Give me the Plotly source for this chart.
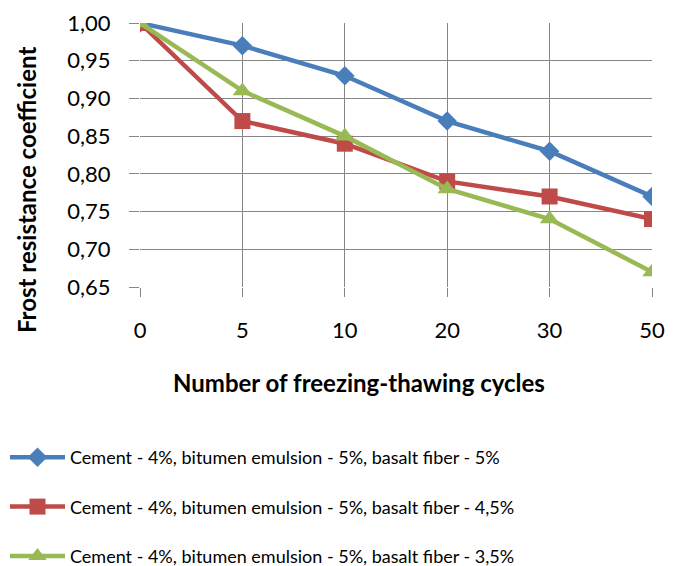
import plotly.graph_objects as go

cycles = ["0", "5", "10", "20", "30", "50"]
fiber_5 = [1.00, 0.97, 0.93, 0.87, 0.83, 0.77]
fiber_4_5 = [1.00, 0.87, 0.84, 0.79, 0.77, 0.74]
fiber_3_5 = [1.00, 0.91, 0.85, 0.78, 0.74, 0.67]
series_names = [
    "Cement - 4%, bitumen emulsion - 5%, basalt fiber - 5%",
    "Cement - 4%, bitumen emulsion - 5%, basalt fiber - 4,5%",
    "Cement - 4%, bitumen emulsion - 5%, basalt fiber - 3,5%",
]
y_ticks = [0.65, 0.70, 0.75, 0.80, 0.85, 0.90, 0.95, 1.00]

FONT = "Lato"
colors = ["#4A7EBB", "#BE4B48", "#98B954"]
symbols = ["diamond", "square", "triangle-up"]
sizes = [15, 16, 17]

# page body adds an 8px offset; figure sized to fit the window
OFF = 8
W, H = 673, 558
L, R, T, B = 132, 29, 15, 279
pw, ph = W - L - R, H - T - B


def px_x(sx):
    return (sx - OFF - L) / pw


def px_y(sy):
    return (H - B - (sy - OFF)) / ph


fig = go.Figure()
for i, vals in enumerate([fiber_5, fiber_4_5, fiber_3_5]):
    fig.add_trace(go.Scatter(
        x=cycles, y=vals, name=series_names[i], mode="lines+markers",
        line=dict(color=colors[i], width=4.5),
        marker=dict(symbol=symbols[i], size=sizes[i], color=colors[i]),
        legendgroup=f"g{i}",
    ))

fig.update_layout(
    width=W, height=H,
    margin=dict(l=L, r=R, t=T, b=B, autoexpand=False),
    paper_bgcolor="white", plot_bgcolor="white",
    separators=",.",
    font=dict(family=FONT, color="#000000"),
    showlegend=True,
    legend=dict(
        x=px_x(5), y=px_y(439), xanchor="left", yanchor="top",
        font=dict(family=FONT, size=18, color="#000000"),
        tracegroupgap=23, itemwidth=55, bgcolor="rgba(0,0,0,0)",
    ),
    xaxis=dict(
        type="category", range=[0, 5],
        showgrid=True, gridcolor="#868686", gridwidth=1,
        ticks="outside", ticklen=9, tickcolor="#868686",
        ticklabelstandoff=15,
        showline=False, zeroline=False,
        tickfont=dict(family=FONT, size=22, color="#000000"),
    ),
    yaxis=dict(
        range=[0.65, 1.00], tickvals=y_ticks, tickformat=".2f",
        showgrid=True, gridcolor="#868686", gridwidth=1,
        ticks="outside", ticklen=10, tickcolor="#868686",
        ticklabelstandoff=14,
        showline=False, zeroline=False,
        tickfont=dict(family=FONT, size=22, color="#000000"),
    ),
    annotations=[
        dict(text="<b>Number of freezing-thawing cycles</b>", xref="paper", yref="paper",
             x=px_x(359), y=px_y(382), showarrow=False, xanchor="center", yanchor="middle",
             font=dict(family=FONT, size=24, color="#000000")),
        dict(text="<b>Frost resistance coefficient</b>", xref="paper", yref="paper",
             x=px_x(26), y=px_y(190), showarrow=False, xanchor="center", yanchor="middle",
             textangle=-90, font=dict(family=FONT, size=24, color="#000000")),
    ],
)

fig.write_html("out.html")
